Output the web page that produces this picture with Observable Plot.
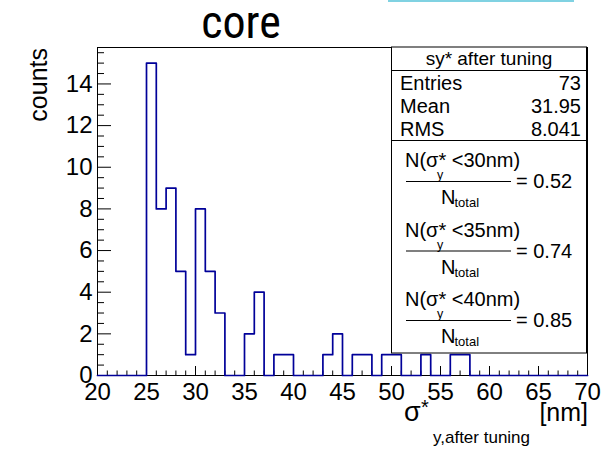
<!DOCTYPE html>
<html>
<head>
<meta charset="utf-8">
<script src="https://cdn.jsdelivr.net/npm/d3@7"></script>
<script src="https://cdn.jsdelivr.net/npm/@observablehq/plot@0.6"></script>
<style>
  html, body { margin: 0; padding: 0; background: #fff; }
  #chart { position: relative; width: 612px; height: 450px; }
</style>
</head>
<body>
<div id="chart"></div>
<script>
// ---- data ----
const binLow = [20,21,22,23,24,25,26,27,28,29,30,31,32,33,34,35,36,37,38,39,40,41,42,43,44,45,46,47,48,49,50,51,52,53,54,55,56,57,58,59,60,61,62,63,64,65,66,67,68,69];
const counts = [0,0,0,0,0,15,8,9,5,1,8,5,3,0,0,2,4,0,1,1,0,0,0,1,2,0,1,1,0,1,1,0,0,1,0,0,1,1,0,0,0,0,0,0,0,0,0,0,0,0];
const xMajor = [20,25,30,35,40,45,50,55,60,65,70];
const xMinor = [21,22,23,24,26,27,28,29,31,32,33,34,36,37,38,39,41,42,43,44,46,47,48,49,51,52,53,54,56,57,58,59,61,62,63,64,66,67,68,69];
const yMajor = [0,2,4,6,8,10,12,14];
const yMinor = [0.5,1,1.5,2.5,3,3.5,4.5,5,5.5,6.5,7,7.5,8.5,9,9.5,10.5,11,11.5,12.5,13,13.5,14.5,15,15.5];
const statLabels = ["Entries","Mean","RMS"];
const statValues = ["73","31.95","8.041"];
const fracCuts = ["30","35","40"];
const fracValues = ["0.52","0.74","0.85"];

const steps = binLow.map((x, i) => ({x, y: counts[i]}));
steps.push({x: 70, y: counts[counts.length - 1]});

const FONT = "'Liberation Sans', Arial, Helvetica, sans-serif";

const plot = Plot.plot({
  width: 612,
  height: 450,
  marginLeft: 97,
  marginRight: 25,
  marginTop: 47,
  marginBottom: 75,
  x: {domain: [20, 70]},
  y: {domain: [0, 15.75]},
  style: {fontFamily: FONT, background: "white", overflow: "visible"},
  marks: [
    Plot.frame({stroke: "black", strokeWidth: 1}),
    Plot.ruleX(xMajor, {x: d => d, y1: 0, y2: 0, insetBottom: 9, stroke: "black"}),
    Plot.ruleX(xMinor, {x: d => d, y1: 0, y2: 0, insetBottom: 4.5, stroke: "black"}),
    Plot.ruleY(yMajor, {y: d => d, x1: 20, x2: 20, insetLeft: 14, stroke: "black"}),
    Plot.ruleY(yMinor, {y: d => d, x1: 20, x2: 20, insetLeft: 7, stroke: "black"}),
    Plot.axisX({ticks: xMajor, tickSize: 0, tickPadding: 7, fontSize: 24, label: null, fill: "black"}),
    Plot.axisY({ticks: yMajor, tickSize: 0, tickPadding: 5, fontSize: 24, label: null, fill: "black"}),
    Plot.lineY(steps, {x: "x", y: "y", curve: "step-after", stroke: "#000099", strokeWidth: 1.7})
  ]
});

document.getElementById("chart").appendChild(plot);
const svg = d3.select(plot);

// top cyan strip (screenshot artifact)
svg.append("rect").attr("x", 388).attr("y", 0).attr("width", 186).attr("height", 2).attr("fill", "#80d2e2");

// title
svg.append("text").attr("x", 241).attr("y", 38).attr("text-anchor", "middle")
  .attr("font-family", "'Liberation Sans Narrow', 'Roboto Condensed', Roboto, sans-serif")
  .attr("font-size", 46).attr("fill", "black").text("core");

// y label
svg.append("text").attr("transform", "translate(47,48) rotate(-90)").attr("text-anchor", "end")
  .attr("font-family", FONT).attr("font-size", 25).attr("fill", "black").text("counts");

// x label
const xl = svg.append("g").attr("font-family", FONT).attr("fill", "black").attr("text-anchor", "start");
xl.append("text").attr("x", 404).attr("y", 421).attr("font-size", 27).text("σ");
xl.append("text").attr("x", 421).attr("y", 414).attr("font-size", 20).text("*");
xl.append("text").attr("x", 433).attr("y", 443).attr("font-size", 17).text("y,after tuning");
xl.append("text").attr("x", 588).attr("y", 421).attr("font-size", 25).attr("text-anchor", "end").text("[nm]");

// stats box
const bx0 = 391.5, bx1 = 586.5, by0 = 47, by1 = 353;
const st = svg.append("g").attr("font-family", FONT).attr("fill", "black").attr("text-anchor", "start");
st.append("rect").attr("x", bx0).attr("y", by0).attr("width", bx1 - bx0).attr("height", by1 - by0)
  .attr("fill", "white").attr("stroke", "black").attr("stroke-width", 1);
st.append("line").attr("x1", bx0).attr("x2", bx1).attr("y1", 70.5).attr("y2", 70.5).attr("stroke", "black");
st.append("line").attr("x1", bx0).attr("x2", bx1).attr("y1", 140.5).attr("y2", 140.5).attr("stroke", "black");
st.append("text").attr("x", 489).attr("y", 65).attr("text-anchor", "middle").attr("font-size", 19).text("sy* after tuning");
statLabels.forEach((lab, i) => {
  const y = 90 + i * 23;
  st.append("text").attr("x", 400).attr("y", y).attr("font-size", 20).text(lab);
  st.append("text").attr("x", 581).attr("y", y).attr("font-size", 20).attr("text-anchor", "end").text(statValues[i]);
});
fracCuts.forEach((cut, i) => {
  const o = i * 69.5;
  st.append("text").attr("x", 405).attr("y", 167 + o).attr("font-size", 20).text(`N(σ* <${cut}nm)`);
  st.append("text").attr("x", 437).attr("y", 179 + o).attr("font-size", 12.5).text("y");
  st.append("line").attr("x1", 406).attr("x2", 511).attr("y1", 181.5 + o).attr("y2", 181.5 + o).attr("stroke", "black").attr("stroke-width", 1.2);
  const d = st.append("text").attr("x", 441).attr("y", 204 + o).attr("font-size", 20);
  d.append("tspan").text("N");
  d.append("tspan").attr("font-size", 13).attr("dy", 3).attr("dx", -1).text("total");
  st.append("text").attr("x", 516).attr("y", 188 + o).attr("font-size", 20).text(`= ${fracValues[i]}`);
});
</script>
</body>
</html>
